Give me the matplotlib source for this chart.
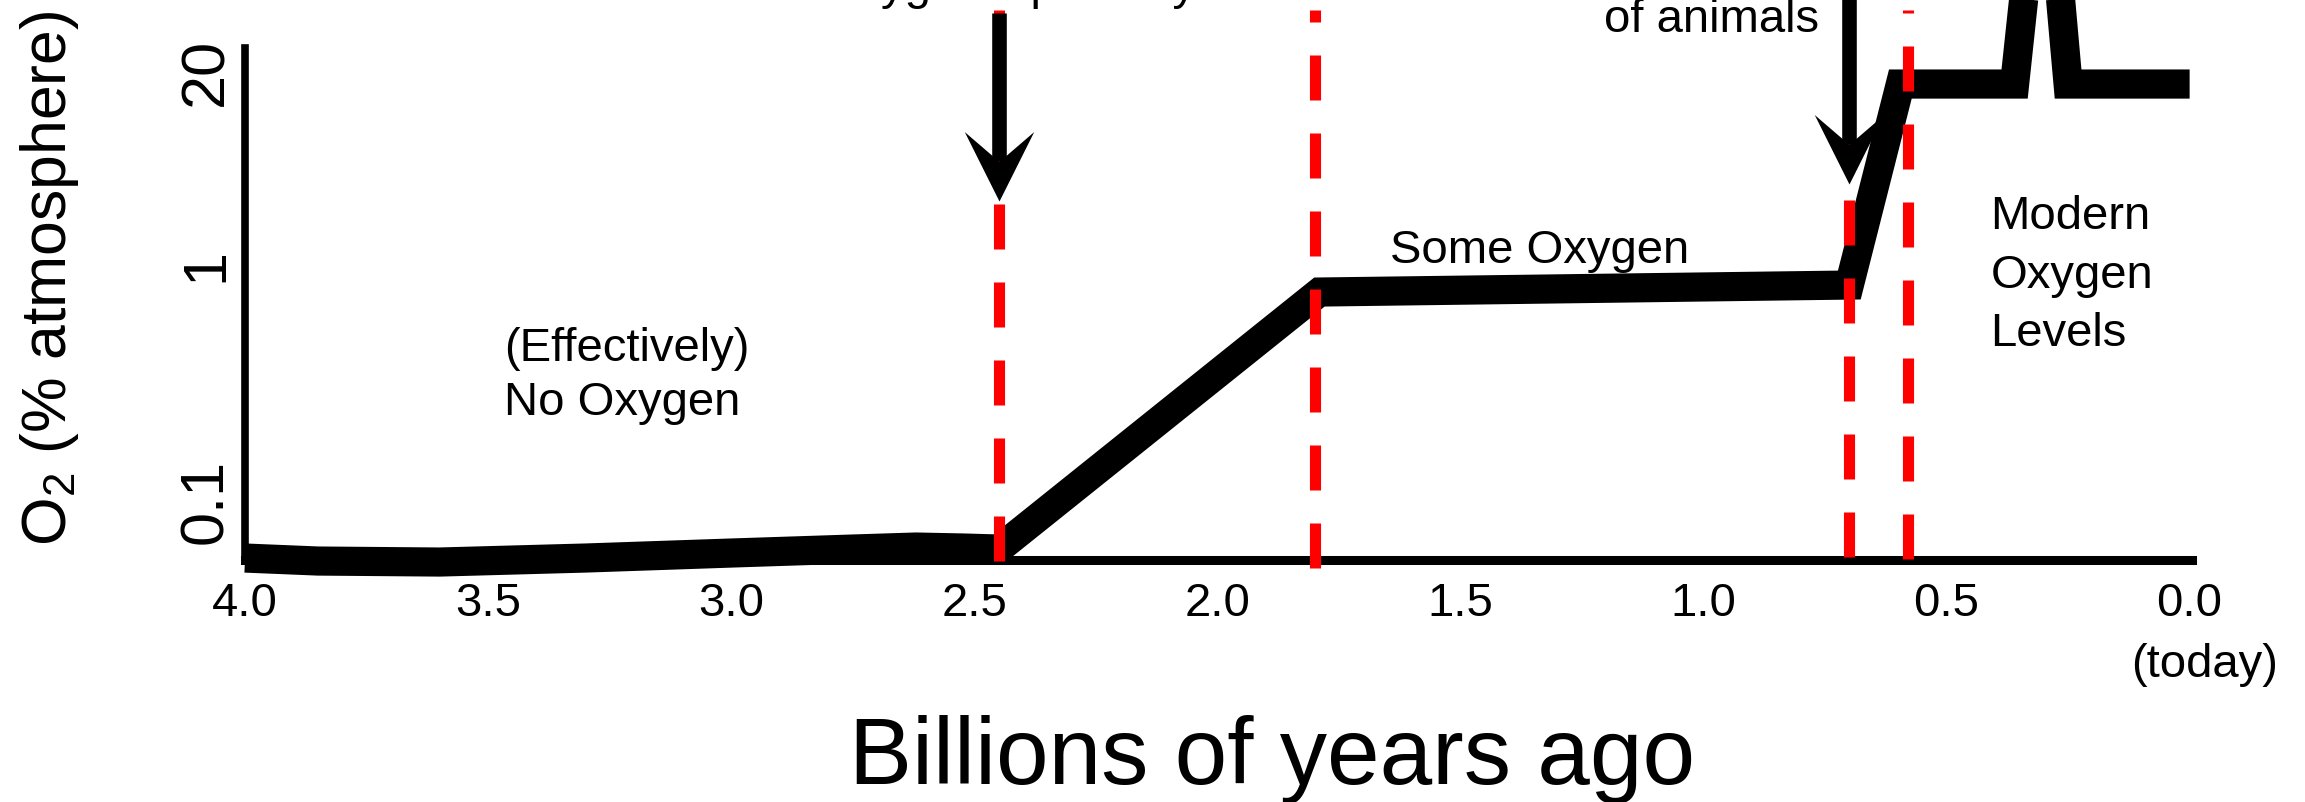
import numpy as np
import matplotlib.pyplot as plt
from matplotlib.path import Path

plt.rcParams['font.family'] = ['Liberation Sans', 'DejaVu Sans']
plt.rcParams['mathtext.default'] = 'regular'

# O2 history, x = billions of years ago, y = schematic height on the plot
# (the y axis is not to scale: 0.1 / 1 / 20 are just labels at fixed heights)
age = [4.0, 3.85, 3.6, 3.3, 3.0, 2.75, 2.62, 2.52, 2.45,
       1.79, 0.70, 0.595, 0.36, 0.30, 0.25, 0.0]
level = [0.02, -0.01, -0.02, 0.02, 0.07, 0.11, 0.13, 0.12, 0.11,
         2.68, 2.75, 4.76, 4.76, 7.5, 4.76, 4.76]

xtick_vals = [4.0, 3.5, 3.0, 2.5, 2.0, 1.5, 1.0, 0.5, 0.0]
xtick_labels = ['4.0', '3.5', '3.0', '2.5', '2.0', '1.5', '1.0', '0.5', '0.0']
ytick_pos = [0.59, 2.95, 4.88]
ytick_labels = ['0.1', '1', '20']

# red dashed event lines
event_ages = [2.45, 1.80, 0.70, 0.58]
event_bottom = [-0.01, -0.08, 0.03, 0.01]
event_top = 5.5

# black arrows pointing at events
arrow_ages = [2.45, 0.70]
arrow_tips = [3.59, 3.76]
arrow_tops = [5.47, 5.9]

fig = plt.figure(figsize=(23.05, 8.02), dpi=100)
ax = fig.add_axes([0.1063, 0.3017, 0.8447, 0.6384])

ax.plot(age, level, color='black', lw=21, solid_joinstyle='miter',
        solid_capstyle='butt', clip_on=False, zorder=3)

for x, y0 in zip(event_ages, event_bottom):
    ax.plot([x, x], [y0, event_top], color='red', lw=8,
            linestyle=(0, (4.05, 2.97)), dash_capstyle='butt',
            clip_on=False, zorder=4)

# notched arrow head, tip at the origin, pointing down
head = Path([(0, 0), (-0.5, 1.0), (0, 0.57), (0.5, 1.0), (0, 0)],
            [Path.MOVETO, Path.LINETO, Path.LINETO, Path.LINETO, Path.CLOSEPOLY])
for x, tip, top in zip(arrow_ages, arrow_tips, arrow_tops):
    ax.plot([x, x], [tip + 0.4, top], color='black', lw=10.5,
            solid_capstyle='butt', clip_on=False, zorder=5)
    ax.plot([x], [tip], marker=head, markersize=100, color='black',
            markeredgewidth=0, clip_on=False, zorder=5)

ax.set_xlim(3.99, -0.005)
ax.set_ylim(0, 5.12)
for s in ['top', 'right']:
    ax.spines[s].set_visible(False)
ax.spines['left'].set_linewidth(5.5)
ax.spines['bottom'].set_linewidth(6.5)

ax.set_xticks(xtick_vals)
ax.set_xticklabels(xtick_labels)
ax.set_yticks(ytick_pos)
ax.set_yticklabels(ytick_labels, rotation=90, va='center')
ax.tick_params(axis='x', length=0, pad=16, labelsize=34)
ax.tick_params(axis='y', length=0, pad=7, labelsize=44)

ax.text(-0.03, -0.205, '(today)', transform=ax.get_xaxis_transform(),
        ha='center', va='center', fontsize=34)

ax.text(3.467, 1.84, '(Effectively)\nNo Oxygen', ha='left', va='center',
        fontsize=34, linespacing=1.31)
ax.text(1.337, 2.97, 'Some Oxygen', ha='center', va='baseline', fontsize=34)
ax.text(0.41, 3.65, 'Modern\nOxygen\nLevels', ha='left', va='top',
        fontsize=34, linespacing=1.43)
ax.text(2.794, 5.61, 'oxygenic photosynthesis', ha='left', va='baseline',
        fontsize=34)
ax.text(0.983, 5.28, 'of animals', ha='center', va='baseline', fontsize=34)

fig.text(1272 / 2305, 1 - 784 / 802, 'Billions of years ago', ha='center',
         va='baseline', fontsize=68)
fig.text(50 / 2305, 1 - 278 / 802, 'O$_2$ (% atmosphere)', rotation=90,
         ha='center', va='center', fontsize=45)

fig.savefig('out.png', dpi=100)
